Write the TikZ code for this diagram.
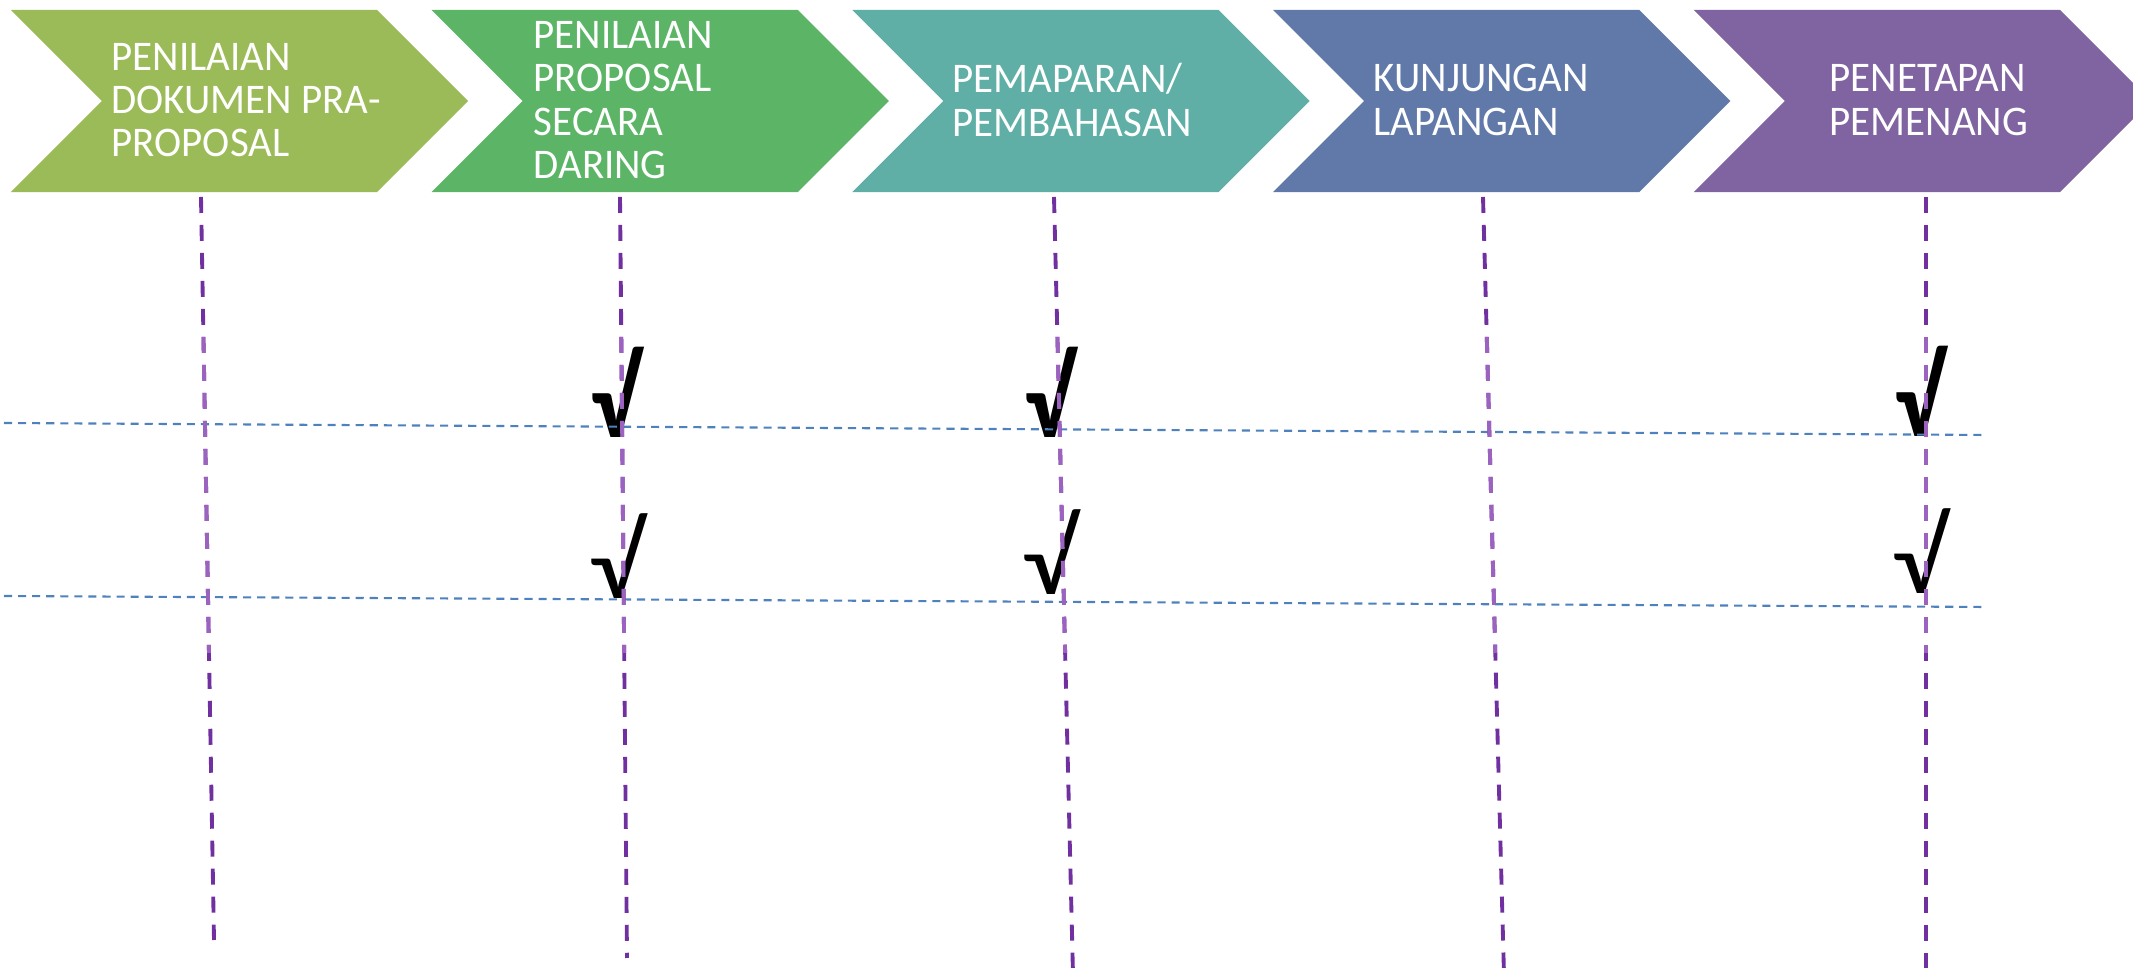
\documentclass[tikz,border=0pt]{standalone}
\usepackage{fontspec}
\setmainfont{Carlito}[FakeStretch=0.97]
\usetikzlibrary{shapes.symbols}

\definecolor{chevA}{HTML}{9BBB59}
\definecolor{chevB}{HTML}{5CB566}
\definecolor{chevC}{HTML}{5FAFA6}
\definecolor{chevD}{HTML}{6079A8}
\definecolor{chevE}{HTML}{8064A1}
\definecolor{purpdark}{HTML}{7030A0}
\definecolor{purplight}{HTML}{9B63BF}
\definecolor{lineblue}{HTML}{4F81BD}

\begin{document}
\begin{tikzpicture}[%
    x=0.01cm,
    y=-0.01cm,
    node distance=4.205cm,
    chev/.style={signal, signal from=west, signal to=east,
      signal pointer angle=90, minimum width=4.57cm,
      minimum height=1.82cm, inner sep=0pt, draw=none},
    lbl/.style={anchor=west, align=left, inner sep=0pt, text=white,
      font=\fontsize{12}{12.3}\selectfont},
    chk/.style={inner sep=0pt, font=\fontsize{26}{26}\selectfont},
    chkbold/.style={chk, font=\fontsize{26}{26}\selectfont\bfseries},
    vline/.style={dash pattern=on 4.55pt off 3.41pt, line width=1.1pt},
    hline/.style={draw=lineblue, dash pattern=on 2.3pt off 1.7pt,
      line width=0.6pt}
  ]

  \useasboundingbox (0,0) rectangle (2133,968);

  % the five stages
  \node[chev, fill=chevA] (ch1) at (239.5,101) {};
  \node[chev, fill=chevB] (ch2) [right of=ch1] {};
  \node[chev, fill=chevC] (ch3) [right of=ch2] {};
  \node[chev, fill=chevD] (ch4) [right of=ch3] {};
  \node[chev, fill=chevE] (ch5) [right of=ch4] {};

  \node[lbl] (t1) at (111,100) {PENILAIAN\\DOKUMEN PRA-\\PROPOSAL};
  \node[lbl] (t2) at (533,100) {PENILAIAN\\PROPOSAL\\SECARA\\DARING};
  \node[lbl] (t3) at (952,100) {PEMAPARAN/\\PEMBAHASAN};
  \node[lbl] (t4) at (1373,100) {KUNJUNGAN\\LAPANGAN};
  \node[lbl] (t5) at (1829,100) {PENETAPAN\\PEMENANG};

  % checks
  \node[chkbold] (v2a) at (615,392) {\scalebox{1.13}[1.23]{√}};
  \node[chkbold] (v3a) at (1049,392) {\scalebox{1.13}[1.23]{√}};
  \node[chkbold] (v5a) at (1919,391) {\scalebox{1.13}[1.23]{√}};
  \node[chk] (v2b) at (617,556) {\scalebox{1.23}[1.15]{√}};
  \node[chk] (v3b) at (1050,552) {\scalebox{1.23}[1.15]{√}};
  \node[chk] (v5b) at (1920,551) {\scalebox{1.23}[1.15]{√}};

  % rows
  \coordinate (hA1) at (4,423);
  \coordinate (hA2) at (1987,435);
  \coordinate (hB1) at (4,596);
  \coordinate (hB2) at (1987,607);
  \draw[hline] (hA1) -- (hA2);
  \draw[hline] (hB1) -- (hB2);

  % columns
  \foreach \i/\xa/\xb/\yb in {1/201/214/940, 2/620/627/958,
      3/1054/1073/975, 4/1483/1504/975, 5/1926/1926/975} {
    \coordinate (p\i) at (\xa,197);
    \coordinate (q\i) at (\xb,\yb);
    \draw[vline, draw=purpdark] (p\i) -- (q\i);
  }
  \begin{scope}
    \clip (0,333) rectangle (2133,653);
    \foreach \i in {1,...,5}
      \draw[vline, draw=purplight] (p\i) -- (q\i);
  \end{scope}

\end{tikzpicture}
\end{document}
